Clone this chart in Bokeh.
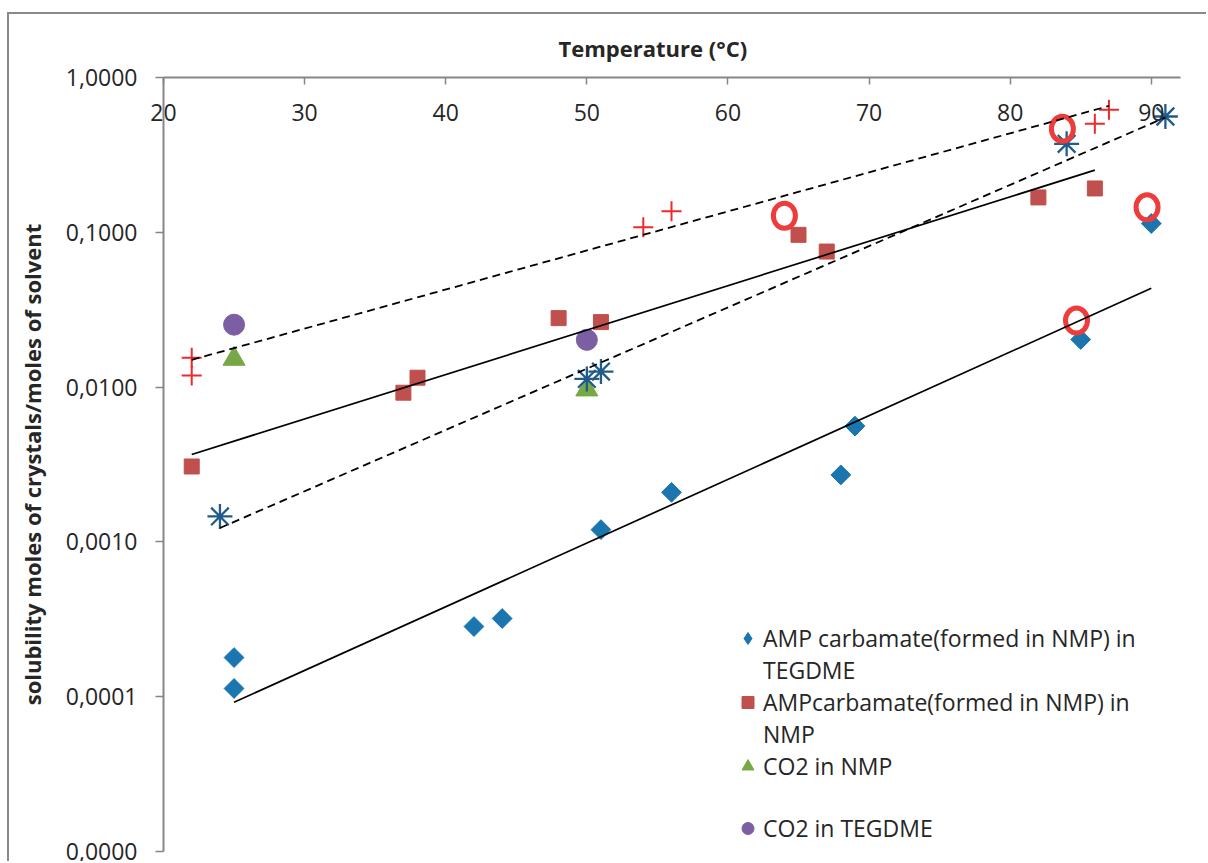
import math
from bokeh.plotting import figure
from bokeh.models import FixedTicker, Legend, LegendItem, Range1d
from bokeh.core.properties import value
from bokeh.embed import file_html
from bokeh.resources import INLINE

# ---- data ----
x_ticks = [20, 30, 40, 50, 60, 70, 80, 90]
y_ticks = [1e-5, 1e-4, 1e-3, 1e-2, 1e-1, 1.0]
y_tick_labels = ["0,0000", "0,0001", "0,0010", "0,0100", "0,1000", "1,0000"]

# AMP carbamate (formed in NMP) in TEGDME
teg_T = [25, 25, 42, 44, 51, 56, 68, 69, 85, 90]
teg_S = [1.79e-4, 1.13e-4, 2.84e-4, 3.2e-4, 1.2e-3, 2.09e-3, 2.71e-3, 5.6e-3, 0.0203, 0.114]

# AMPcarbamate (formed in NMP) in NMP
nmp_T = [22, 37, 38, 48, 51, 65, 67, 82, 86]
nmp_S = [3.07e-3, 9.2e-3, 0.0115, 0.0279, 0.0263, 0.0963, 0.0751, 0.168, 0.192]

# CO2 in NMP
co2n_T = [25, 50]
co2n_S = [0.0152, 0.00964]

# CO2 in TEGDME
co2t_T = [25, 50]
co2t_S = [0.0253, 0.0202]

# unlabeled red "+" series
plus_T = [22, 22, 54, 56, 86, 87]
plus_S = [0.0155, 0.0119, 0.108, 0.137, 0.502, 0.618]

# unlabeled blue asterisk series
star_T = [24, 50, 51, 84, 91]
star_S = [1.46e-3, 0.0113, 0.0126, 0.373, 0.560]

# red rings
ring_T = [64, 83.7, 84.7, 89.7]
ring_S = [0.128, 0.466, 0.0269, 0.145]

# trend lines (end points)
tr_teg_T = [25, 90]
tr_teg_S = [9.2e-5, 0.0435]
tr_nmp_T = [22, 86]
tr_nmp_S = [3.67e-3, 0.252]
tr_plus_T = [22, 87]
tr_plus_S = [0.0150, 0.655]
tr_star_T = [24, 91]
tr_star_S = [1.23e-3, 0.552]

FONT = "Open Sans"
TXT = "#262626"
AX = "#868686"

p = figure(frame_width=1017, frame_height=774,
           x_range=Range1d(20, 92.07), y_range=Range1d(1e-5, 1.0),
           y_axis_type="log", x_axis_location="above",
           output_backend="svg", toolbar_location=None,
           min_border_left=154, min_border_top=63, min_border_right=26,
           min_border_bottom=10, title="Temperature (°C)")
# outer chart-area border (left and top edges visible in the crop)
p.styles = {"margin-left": "7px", "margin-top": "12px",
            "border-left": "2px solid #898989", "border-top": "2px solid #898989"}
p.outline_line_color = None
p.background_fill_color = "white"
p.border_fill_color = "white"
p.grid.visible = False

p.title.text_font = FONT
p.title.text_font_size = "22px"
p.title.text_font_style = "bold"
p.title.text_color = TXT
p.title.align = "left"
p.title.offset = 395
p.title.standoff = 30

xa = p.xaxis[0]
xa.ticker = FixedTicker(ticks=x_ticks)
xa.axis_line_color = AX
xa.axis_line_width = 2
xa.major_tick_line_color = AX
xa.major_tick_line_width = 1.5
xa.major_tick_out = 0
xa.major_tick_in = 7
xa.minor_tick_line_color = None
xa.major_label_text_font = FONT
xa.major_label_text_font_size = "23px"
xa.major_label_text_color = TXT
xa.major_label_standoff = -43

ya = p.yaxis[0]
ya.ticker = FixedTicker(ticks=y_ticks)
ya.major_label_overrides = dict(zip(y_ticks, y_tick_labels))
ya.axis_line_color = AX
ya.axis_line_width = 2
ya.major_tick_line_color = AX
ya.major_tick_line_width = 1.5
ya.major_tick_out = 8
ya.major_tick_in = 0
ya.minor_tick_line_color = None
ya.major_label_text_font = FONT
ya.major_label_text_font_size = "23px"
ya.major_label_text_color = TXT
ya.major_label_standoff = 18
ya.axis_label = "solubility moles of crystals/moles of solvent"
ya.axis_label_text_font = FONT
ya.axis_label_text_font_size = "22px"
ya.axis_label_text_font_style = "bold"
ya.axis_label_text_color = TXT
ya.axis_label_standoff = 16

# markers
BLUE = "#1B75AE"
r_teg = p.scatter(teg_T, teg_S, marker="square", angle=math.pi / 4, size=14,
                  fill_color=BLUE, line_color=BLUE)
r_nmp = p.scatter(nmp_T, nmp_S, marker="square", size=15,
                  fill_color="#C0504D", line_color="#C0504D")
r_co2n = p.scatter(co2n_T, co2n_S, marker="triangle", size=22,
                   fill_color="#77A846", line_color="#77A846")
r_co2t = p.scatter(co2t_T, co2t_S, marker="circle", size=21,
                   fill_color="#7B5FA2", line_color="#7B5FA2")
p.scatter(plus_T, plus_S, marker="cross", size=20, line_color="#F02828", line_width=2)
p.scatter(star_T, star_S, marker="asterisk", size=25, line_color="#1F5C8B", line_width=2.3)
p.ellipse(x=ring_T, y=ring_S, width=22, height=25, width_units="screen",
          height_units="screen", fill_color=None, line_color="#EE3B3B", line_width=5)

# trend lines
p.line(tr_teg_T, tr_teg_S, line_color="black", line_width=1.7)
p.line(tr_nmp_T, tr_nmp_S, line_color="black", line_width=1.7)
p.line(tr_plus_T, tr_plus_S, line_color="black", line_width=1.8, line_dash="8 5")
p.line(tr_star_T, tr_star_S, line_color="black", line_width=1.8, line_dash="8 5")

# legend key for the diamond series (legend glyphs are drawn unrotated)
r_teg_key = p.scatter(teg_T, teg_S, marker="diamond", fill_color=BLUE,
                      line_color=BLUE, visible=False)
r_blank = p.scatter(teg_T, teg_S, marker="circle", size=1, fill_alpha=0,
                    line_alpha=0, visible=False)

legend = Legend(items=[
    LegendItem(label=value("AMP carbamate(formed in NMP) in"), renderers=[r_teg_key]),
    LegendItem(label=value("TEGDME"), renderers=[r_blank]),
    LegendItem(label=value("AMPcarbamate(formed in NMP) in"), renderers=[r_nmp]),
    LegendItem(label=value("NMP"), renderers=[r_blank]),
    LegendItem(label=value("CO2 in NMP"), renderers=[r_co2n]),
    LegendItem(label=value(" "), renderers=[r_blank]),
    LegendItem(label=value("CO2 in TEGDME"), renderers=[r_co2t]),
], location=(569, 7))
legend.padding = 0
legend.margin = 0
legend.spacing = 0
legend.border_line_color = None
legend.background_fill_alpha = 0
legend.glyph_width = 31
legend.glyph_height = 30
legend.label_height = 30
legend.label_standoff = 0
legend.label_text_font = FONT
legend.label_text_font_size = "23px"
legend.label_text_color = TXT
p.add_layout(legend)

open("out.html", "w").write(file_html(p, INLINE))
